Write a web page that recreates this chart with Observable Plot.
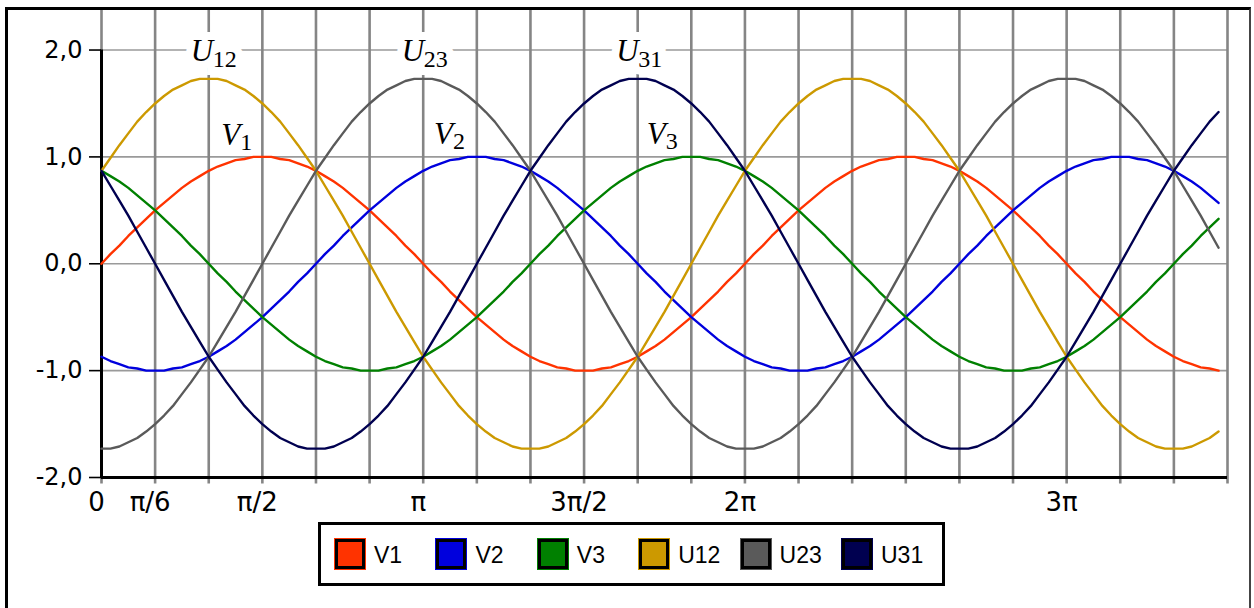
<!DOCTYPE html>
<html>
<head>
<meta charset="utf-8">
<script src="https://cdn.jsdelivr.net/npm/d3@7"></script>
<script src="https://cdn.jsdelivr.net/npm/@observablehq/plot@0.6"></script>
<style>
  html, body { margin: 0; padding: 0; background: #fff; width: 1254px; height: 608px; overflow: hidden; }
  #page { position: relative; width: 1254px; height: 608px; }
  #frame { position: absolute; left: 5px; top: 7px; width: 1246px; height: 700px; box-sizing: border-box;
           border-left: 3px solid #000; border-top: 3px solid #000; border-right: 2px solid #444; }
  #chart { position: absolute; left: 0; top: 0; }
  #legend { position: absolute; left: 318px; top: 522px; width: 627px; height: 64px; box-sizing: border-box;
            border: 3px solid #000; background: #fff; font-family: "Liberation Sans", Arial, sans-serif; font-size: 23px; }
  .item { position: absolute; top: 13px; display: flex; align-items: center; height: 32px; }
  .sw { width: 30px; height: 30px; box-sizing: border-box; border: 3px solid #000; margin: 1px; }
  .lab { margin-left: 8px; color: #000; line-height: 1; padding-top: 3px; }
  g[aria-label="xlabels"] text { letter-spacing: 1.5px; }
</style>
</head>
<body>
<div id="page">
  <div id="frame"></div>
  <div id="chart"></div>
  <div id="legend"></div>
</div>
<script>
// ---- data (angle in degrees, values in p.u.) ----
const angleDeg = [0,5,10,15,20,25,30,35,40,45,50,55,60,65,70,75,80,85,90,95,100,105,110,115,120,125,130,135,140,145,150,155,160,165,170,175,180,185,190,195,200,205,210,215,220,225,230,235,240,245,250,255,260,265,270,275,280,285,290,295,300,305,310,315,320,325,330,335,340,345,350,355,360,365,370,375,380,385,390,395,400,405,410,415,420,425,430,435,440,445,450,455,460,465,470,475,480,485,490,495,500,505,510,515,520,525,530,535,540,545,550,555,560,565,570,575,580,585,590,595,600,605,610,615,620,625];

const V1 = [0,0.09,0.17,0.26,0.34,0.42,0.5,0.57,0.64,0.71,0.77,0.82,0.87,0.91,0.94,0.97,0.98,1,1,1,0.98,0.97,0.94,0.91,0.87,0.82,0.77,0.71,0.64,0.57,0.5,0.42,0.34,0.26,0.17,0.09,
0,-0.09,-0.17,-0.26,-0.34,-0.42,-0.5,-0.57,-0.64,-0.71,-0.77,-0.82,-0.87,-0.91,-0.94,-0.97,-0.98,-1,-1,-1,-0.98,-0.97,-0.94,-0.91,-0.87,-0.82,-0.77,-0.71,-0.64,-0.57,-0.5,-0.42,-0.34,-0.26,-0.17,-0.09,
0,0.09,0.17,0.26,0.34,0.42,0.5,0.57,0.64,0.71,0.77,0.82,0.87,0.91,0.94,0.97,0.98,1,1,1,0.98,0.97,0.94,0.91,0.87,0.82,0.77,0.71,0.64,0.57,0.5,0.42,0.34,0.26,0.17,0.09,
0,-0.09,-0.17,-0.26,-0.34,-0.42,-0.5,-0.57,-0.64,-0.71,-0.77,-0.82,-0.87,-0.91,-0.94,-0.97,-0.98,-1];

const V2 = [-0.87,-0.91,-0.94,-0.97,-0.98,-1,-1,-1,-0.98,-0.97,-0.94,-0.91,-0.87,-0.82,-0.77,-0.71,-0.64,-0.57,-0.5,-0.42,-0.34,-0.26,-0.17,-0.09,
0,0.09,0.17,0.26,0.34,0.42,0.5,0.57,0.64,0.71,0.77,0.82,0.87,0.91,0.94,0.97,0.98,1,1,1,0.98,0.97,0.94,0.91,0.87,0.82,0.77,0.71,0.64,0.57,0.5,0.42,0.34,0.26,0.17,0.09,
0,-0.09,-0.17,-0.26,-0.34,-0.42,-0.5,-0.57,-0.64,-0.71,-0.77,-0.82,-0.87,-0.91,-0.94,-0.97,-0.98,-1,-1,-1,-0.98,-0.97,-0.94,-0.91,-0.87,-0.82,-0.77,-0.71,-0.64,-0.57,-0.5,-0.42,-0.34,-0.26,-0.17,-0.09,
0,0.09,0.17,0.26,0.34,0.42,0.5,0.57,0.64,0.71,0.77,0.82,0.87,0.91,0.94,0.97,0.98,1,1,1,0.98,0.97,0.94,0.91,0.87,0.82,0.77,0.71,0.64,0.57];

const V3 = [0.87,0.82,0.77,0.71,0.64,0.57,0.5,0.42,0.34,0.26,0.17,0.09,
0,-0.09,-0.17,-0.26,-0.34,-0.42,-0.5,-0.57,-0.64,-0.71,-0.77,-0.82,-0.87,-0.91,-0.94,-0.97,-0.98,-1,-1,-1,-0.98,-0.97,-0.94,-0.91,-0.87,-0.82,-0.77,-0.71,-0.64,-0.57,-0.5,-0.42,-0.34,-0.26,-0.17,-0.09,
0,0.09,0.17,0.26,0.34,0.42,0.5,0.57,0.64,0.71,0.77,0.82,0.87,0.91,0.94,0.97,0.98,1,1,1,0.98,0.97,0.94,0.91,0.87,0.82,0.77,0.71,0.64,0.57,0.5,0.42,0.34,0.26,0.17,0.09,
0,-0.09,-0.17,-0.26,-0.34,-0.42,-0.5,-0.57,-0.64,-0.71,-0.77,-0.82,-0.87,-0.91,-0.94,-0.97,-0.98,-1,-1,-1,-0.98,-0.97,-0.94,-0.91,-0.87,-0.82,-0.77,-0.71,-0.64,-0.57,-0.5,-0.42,-0.34,-0.26,-0.17,-0.09,
0,0.09,0.17,0.26,0.34,0.42];

const U12 = [0.87,0.99,1.11,1.22,1.33,1.42,1.5,1.57,1.63,1.67,1.71,1.73,1.73,1.73,1.71,1.67,1.63,1.57,1.5,1.42,1.33,1.22,1.11,0.99,0.87,0.73,0.59,0.45,0.3,0.15,
0,-0.15,-0.3,-0.45,-0.59,-0.73,-0.87,-0.99,-1.11,-1.22,-1.33,-1.42,-1.5,-1.57,-1.63,-1.67,-1.71,-1.73,-1.73,-1.73,-1.71,-1.67,-1.63,-1.57,-1.5,-1.42,-1.33,-1.22,-1.11,-0.99,-0.87,-0.73,-0.59,-0.45,-0.3,-0.15,
0,0.15,0.3,0.45,0.59,0.73,0.87,0.99,1.11,1.22,1.33,1.42,1.5,1.57,1.63,1.67,1.71,1.73,1.73,1.73,1.71,1.67,1.63,1.57,1.5,1.42,1.33,1.22,1.11,0.99,0.87,0.73,0.59,0.45,0.3,0.15,
0,-0.15,-0.3,-0.45,-0.59,-0.73,-0.87,-0.99,-1.11,-1.22,-1.33,-1.42,-1.5,-1.57,-1.63,-1.67,-1.71,-1.73,-1.73,-1.73,-1.71,-1.67,-1.63,-1.57];

const U23 = [-1.73,-1.73,-1.71,-1.67,-1.63,-1.57,-1.5,-1.42,-1.33,-1.22,-1.11,-0.99,-0.87,-0.73,-0.59,-0.45,-0.3,-0.15,
0,0.15,0.3,0.45,0.59,0.73,0.87,0.99,1.11,1.22,1.33,1.42,1.5,1.57,1.63,1.67,1.71,1.73,1.73,1.73,1.71,1.67,1.63,1.57,1.5,1.42,1.33,1.22,1.11,0.99,0.87,0.73,0.59,0.45,0.3,0.15,
0,-0.15,-0.3,-0.45,-0.59,-0.73,-0.87,-0.99,-1.11,-1.22,-1.33,-1.42,-1.5,-1.57,-1.63,-1.67,-1.71,-1.73,-1.73,-1.73,-1.71,-1.67,-1.63,-1.57,-1.5,-1.42,-1.33,-1.22,-1.11,-0.99,-0.87,-0.73,-0.59,-0.45,-0.3,-0.15,
0,0.15,0.3,0.45,0.59,0.73,0.87,0.99,1.11,1.22,1.33,1.42,1.5,1.57,1.63,1.67,1.71,1.73,1.73,1.73,1.71,1.67,1.63,1.57,1.5,1.42,1.33,1.22,1.11,0.99,0.87,0.73,0.59,0.45,0.3,0.15];

const U31 = [0.87,0.73,0.59,0.45,0.3,0.15,
0,-0.15,-0.3,-0.45,-0.59,-0.73,-0.87,-0.99,-1.11,-1.22,-1.33,-1.42,-1.5,-1.57,-1.63,-1.67,-1.71,-1.73,-1.73,-1.73,-1.71,-1.67,-1.63,-1.57,-1.5,-1.42,-1.33,-1.22,-1.11,-0.99,-0.87,-0.73,-0.59,-0.45,-0.3,-0.15,
0,0.15,0.3,0.45,0.59,0.73,0.87,0.99,1.11,1.22,1.33,1.42,1.5,1.57,1.63,1.67,1.71,1.73,1.73,1.73,1.71,1.67,1.63,1.57,1.5,1.42,1.33,1.22,1.11,0.99,0.87,0.73,0.59,0.45,0.3,0.15,
0,-0.15,-0.3,-0.45,-0.59,-0.73,-0.87,-0.99,-1.11,-1.22,-1.33,-1.42,-1.5,-1.57,-1.63,-1.67,-1.71,-1.73,-1.73,-1.73,-1.71,-1.67,-1.63,-1.57,-1.5,-1.42,-1.33,-1.22,-1.11,-0.99,-0.87,-0.73,-0.59,-0.45,-0.3,-0.15,
0,0.15,0.3,0.45,0.59,0.73,0.87,0.99,1.11,1.22,1.33,1.42];

const seriesNames = ["V1", "V2", "V3", "U12", "U23", "U31"];
const seriesValues = [V1, V2, V3, U12, U23, U31];
const seriesColors = ["#ff3300", "#0000dd", "#008000", "#cc9900", "#5a5a5a", "#000050"];

// grid / ticks
const gridAngles = [0,30,60,90,120,150,180,210,240,270,300,330,360,390,420,450,480,510,540,570,600,630];
const yTicks = [2, 1, 0, -1, -2];
const yTickLabels = ["2,0", "1,0", "0,0", "-1,0", "-2,0"];
const xLabelAngles = [0, 30, 90, 180, 270, 360, 540];
const xLabelTexts = ["0", "π/6", "π/2", "π", "3π/2", "2π", "3π"];

// curve annotations
const uLabelBase = ["U", "U", "U"];
const uLabelSub = ["12", "23", "31"];
const uLabelAngle = [50, 168, 288];
const uLabelValue = [1.9, 1.9, 1.9];
const vLabelBase = ["V", "V", "V"];
const vLabelSub = ["1", "2", "3"];
const vLabelAngle = [67, 186, 305];
const vLabelValue = [1.11, 1.12, 1.12];

// ---- build table ----
const rows = [];
seriesNames.forEach((name, s) => {
  seriesValues[s].forEach((v, i) => rows.push({series: name, angle: angleDeg[i], value: v}));
});
const uLab = uLabelBase.map((b, i) => ({b, s: uLabelSub[i], x: uLabelAngle[i], y: uLabelValue[i]}));
const vLab = vLabelBase.map((b, i) => ({b, s: vLabelSub[i], x: vLabelAngle[i], y: vLabelValue[i]}));

const serif = "'Liberation Serif', 'Times New Roman', serif";
const sans = "'DejaVu Sans', Verdana, sans-serif";

const chart = Plot.plot({
  width: 1254,
  height: 545,
  marginLeft: 101,
  marginRight: 27,
  marginTop: 10,
  marginBottom: 68,
  x: {type: "linear", domain: [0, 630], axis: null},
  y: {type: "linear", domain: [-2, 2.37], axis: null},
  color: {domain: seriesNames, range: seriesColors},
  style: {background: "transparent", overflow: "visible", color: "#000"},
  marks: [
    // horizontal grid
    Plot.ruleY([2, 1, 0, -1], {x1: 0, x2: 630, stroke: "#9a9a9a", strokeWidth: 1.6}),
    // vertical grid (extends below axis as tick marks)
    Plot.ruleX(gridAngles, {y1: -2.06, y2: 2.37, stroke: "#858585", strokeWidth: 2.6}),
    // y axis ticks + labels
    Plot.axisY({ticks: yTicks, tickSize: 12, tickPadding: 7, tickFormat: d => yTickLabels[yTicks.indexOf(d)],
      fontSize: 24, fontFamily: sans, strokeWidth: 1.6, stroke: "#000", fill: "#000", label: null}),
    // axis lines
    Plot.ruleX([0], {y1: -2, y2: 2, stroke: "#000", strokeWidth: 3}),
    Plot.ruleY([-2], {x1: 0, x2: 630, stroke: "#000", strokeWidth: 3}),
    // x labels
    Plot.text(xLabelAngles, {x: d => d, y: -2, text: (d, i) => xLabelTexts[i], dy: 25, dx: -5,
      fontSize: 26, fontFamily: sans, fill: "#000", lineAnchor: "middle", ariaLabel: "xlabels"}),
    // curves
    Plot.line(rows, {x: "angle", y: "value", z: "series", stroke: "series", strokeWidth: 2.4,
      strokeLinejoin: "round", curve: "linear"}),
    // U label white boxes (halos)
    Plot.text(uLab, {x: "x", y: "y", text: "b", textAnchor: "start", lineAnchor: "bottom", fontSize: 31,
      fontStyle: "italic", fontFamily: serif, fill: "#fff", stroke: "#fff", strokeWidth: 16, strokeLinejoin: "miter"}),
    Plot.text(uLab, {x: "x", y: "y", text: "s", textAnchor: "start", lineAnchor: "bottom", dx: 22, dy: 6, fontSize: 24,
      fontFamily: serif, fill: "#fff", stroke: "#fff", strokeWidth: 16, strokeLinejoin: "miter"}),
    // U labels
    Plot.text(uLab, {x: "x", y: "y", text: "b", textAnchor: "start", lineAnchor: "bottom", fontSize: 31,
      fontStyle: "italic", fontFamily: serif, fill: "#000"}),
    Plot.text(uLab, {x: "x", y: "y", text: "s", textAnchor: "start", lineAnchor: "bottom", dx: 22, dy: 6, fontSize: 24,
      fontFamily: serif, fill: "#000"}),
    // V labels
    Plot.text(vLab, {x: "x", y: "y", text: "b", textAnchor: "start", lineAnchor: "bottom", fontSize: 31,
      fontStyle: "italic", fontFamily: serif, fill: "#000"}),
    Plot.text(vLab, {x: "x", y: "y", text: "s", textAnchor: "start", lineAnchor: "bottom", dx: 19, dy: 5, fontSize: 24,
      fontFamily: serif, fill: "#000"})
  ]
});
document.getElementById("chart").appendChild(chart);

// ---- legend ----
const legend = document.getElementById("legend");
seriesNames.forEach((name, i) => {
  const item = document.createElement("div");
  item.className = "item";
  item.style.left = (13 + i * 101.4) + "px";
  const sw = document.createElement("div");
  sw.className = "sw";
  sw.style.background = seriesColors[i];
  sw.style.outline = "1px solid " + seriesColors[i];
  const lab = document.createElement("span");
  lab.className = "lab";
  lab.textContent = name;
  item.appendChild(sw);
  item.appendChild(lab);
  legend.appendChild(item);
});
</script>
</body>
</html>
